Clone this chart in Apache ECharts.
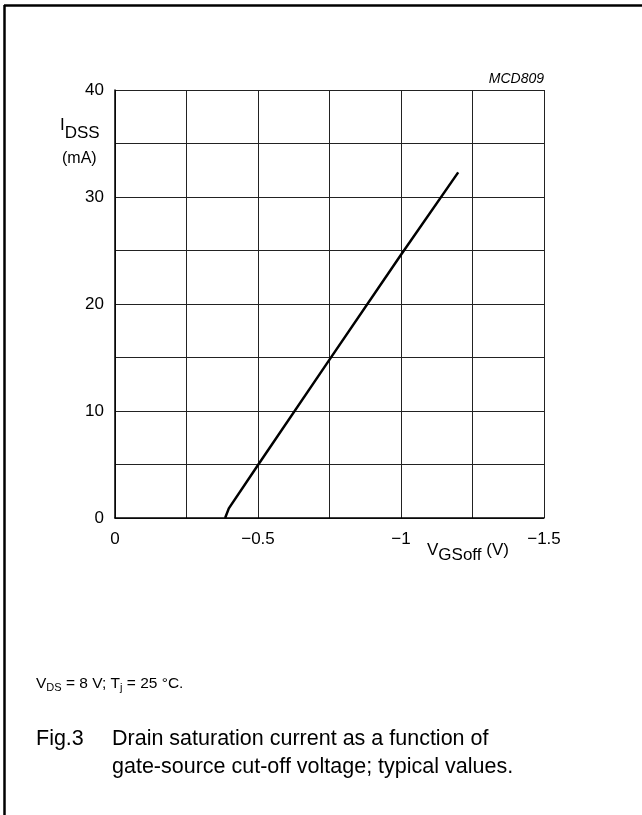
<!DOCTYPE html>
<html>
<head>
<meta charset="utf-8">
<script src="https://cdn.jsdelivr.net/npm/echarts@6/dist/echarts.min.js"></script>
<style>
html,body{margin:0;padding:0;background:#fff;}
#chart{width:642px;height:815px;}
</style>
</head>
<body>
<div id="chart"></div>
<script>
// Data
var vgsOff = [-0.385, -0.398, -0.5, -0.75, -1.0, -1.2];
var idss   = [0, 0.9, 4.95, 14.8, 24.6, 32.3];
var xTickLabels = { '0': '0', '-0.5': '\u22120.5', '-1': '\u22121', '-1.5': '\u22121.5' };
var yTickLabels = { '0': '0', '10': '10', '20': '20', '30': '30', '40': '40' };

var seriesData = vgsOff.map(function (v, i) { return [v, idss[i]]; });
var FONT = '"Liberation Sans", Arial, sans-serif';

var chart = echarts.init(document.getElementById('chart'), null, { renderer: 'canvas' });
chart.setOption({
  animation: false,
  backgroundColor: '#fff',
  grid: { left: 115, top: 90, right: 98, bottom: 297, show: false },
  xAxis: {
    type: 'value', min: -1.5, max: 0, interval: 0.25, inverse: true,
    axisLine: { show: true, lineStyle: { color: '#000', width: 1.5 } },
    axisTick: { show: false },
    splitLine: { show: true, lineStyle: { color: '#222', width: 1 } },
    axisLabel: {
      color: '#000', fontFamily: FONT, fontSize: 17, margin: 13,
      formatter: function (v) { var k = String(Math.round(v * 100) / 100); return xTickLabels[k] || ''; }
    }
  },
  yAxis: {
    type: 'value', min: 0, max: 40, interval: 5,
    axisLine: { show: true, lineStyle: { color: '#000', width: 1.5 } },
    axisTick: { show: false },
    splitLine: { show: true, lineStyle: { color: '#222', width: 1 } },
    axisLabel: {
      color: '#000', fontFamily: FONT, fontSize: 17, margin: 11, padding: [4, 0, 0, 0],
      formatter: function (v) { return yTickLabels[String(v)] || ''; }
    }
  },
  series: [{
    type: 'line', data: seriesData, showSymbol: false, symbol: 'none',
    lineStyle: { color: '#000', width: 2.5 }, z: 5
  }],
  graphic: [
    { type: 'line', shape: { x1: 4, y1: 5.5, x2: 642, y2: 5.5 }, style: { stroke: '#000', lineWidth: 2.5 } },
    { type: 'line', shape: { x1: 4.5, y1: 5, x2: 4.5, y2: 815 }, style: { stroke: '#000', lineWidth: 2.5 } },
    { type: 'text', right: 98, top: 72, style: { text: 'MCD809', font: 'italic 14px ' + FONT, fill: '#000', textAlign: 'right' } },
    { type: 'text', left: 60, top: 117, style: {
        text: '{b|I}{s|DSS}', fill: '#000',
        rich: { b: { font: '17px ' + FONT, verticalAlign: 'top' }, s: { font: '17px ' + FONT, padding: [8, 0, 0, 0] } } } },
    { type: 'text', left: 62, top: 151, style: { text: '(mA)', font: '16px ' + FONT, fill: '#000' } },
    { type: 'text', left: 427, top: 542, style: {
        text: '{b|V}{s|GSoff}{b| (V)}', fill: '#000',
        rich: { b: { font: '17px ' + FONT }, s: { font: '17px ' + FONT, padding: [10, 0, 0, 0] } } } },
    { type: 'text', left: 36, top: 676, style: {
        text: '{b|V}{s|DS}{b| = 8 V; T}{s|j}{b| = 25 \u00B0C.}', fill: '#000',
        rich: { b: { font: '15.5px ' + FONT }, s: { font: '11px ' + FONT, padding: [7, 0, 0, 0] } } } },
    { type: 'text', left: 36, top: 728, style: { text: 'Fig.3', font: '21.5px ' + FONT, fill: '#000' } },
    { type: 'text', left: 112, top: 728, style: { text: 'Drain saturation current as a function of', font: '21.5px ' + FONT, fill: '#000' } },
    { type: 'text', left: 112, top: 756, style: { text: 'gate-source cut-off voltage; typical values.', font: '21.5px ' + FONT, fill: '#000' } }
  ]
});
</script>
</body>
</html>
